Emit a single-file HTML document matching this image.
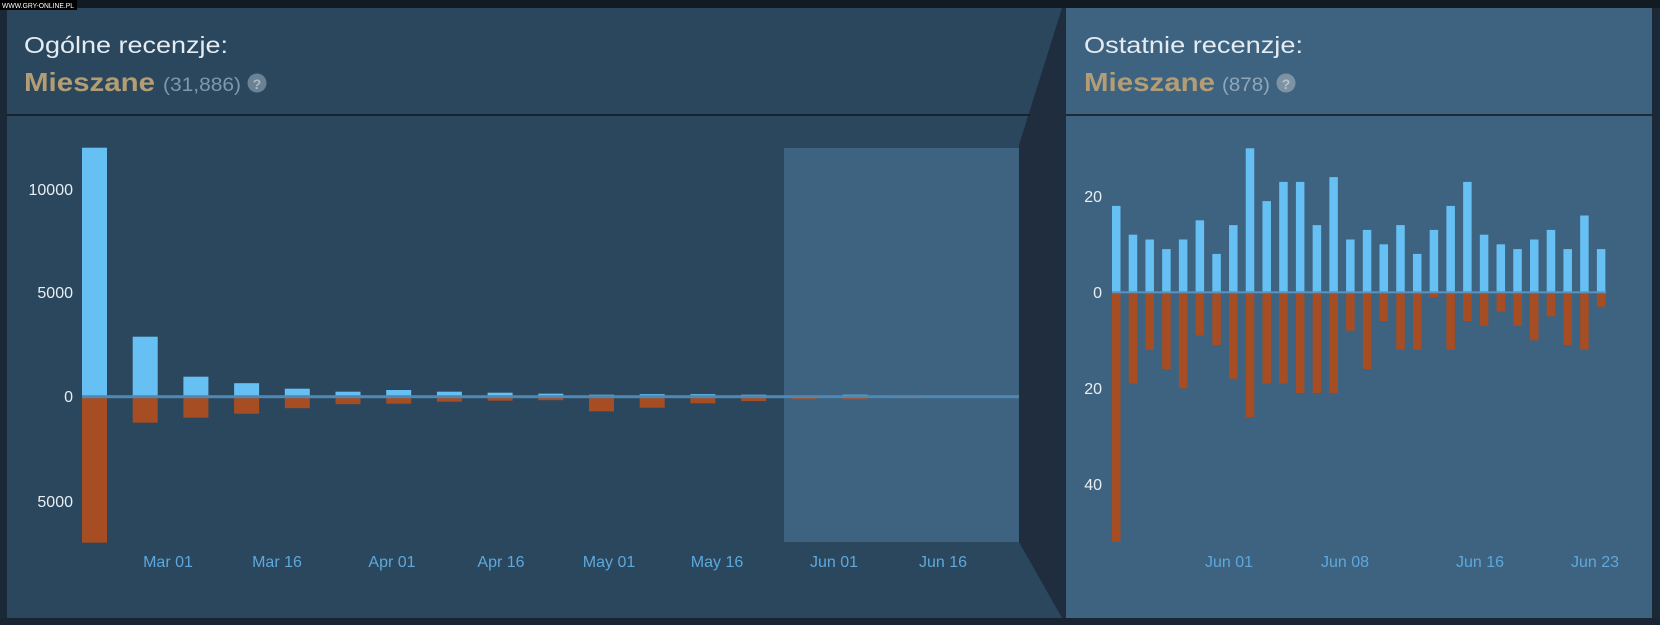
<!DOCTYPE html>
<html><head><meta charset="utf-8"><style>
html,body{margin:0;padding:0;background:#1b2838;width:1660px;height:625px;overflow:hidden}
svg{display:block}
text{font-family:"Liberation Sans",Arial,sans-serif}
</style></head><body>
<svg width="1660" height="625" viewBox="0 0 1660 625" xmlns="http://www.w3.org/2000/svg">
<rect x="0" y="0" width="1660" height="625" fill="#1b2838"/>
<rect x="0" y="0" width="1660" height="8" fill="#121a24"/>
<rect x="0" y="618" width="1660" height="7" fill="#1a2533"/>
<!-- left panel -->
<rect x="7" y="8" width="1058" height="610" fill="#2a475e"/>
<polygon points="1019,145 1062,8 1066,8 1066,618 1062,618 1019,542" fill="#1f2d3e"/>
<line x1="7" y1="115" x2="1030" y2="115" stroke="#111820" stroke-width="1.5"/>
<!-- right panel -->
<rect x="1066" y="8" width="586" height="610" fill="#3e6380"/>
<line x1="1066" y1="115" x2="1652" y2="115" stroke="#111820" stroke-width="1.5"/>

<!-- headers -->
<text x="24" y="53" font-size="23" fill="#e4ecf2" textLength="204" lengthAdjust="spacingAndGlyphs">Ogólne recenzje:</text>
<text x="24" y="91" font-size="26" font-weight="bold" fill="#b39d74" textLength="131" lengthAdjust="spacingAndGlyphs">Mieszane</text>
<text x="163" y="91" font-size="19" fill="#7f98ab" textLength="78" lengthAdjust="spacingAndGlyphs">(31,886)</text>
<circle cx="257" cy="83" r="9.5" fill="#6b8294"/>
<text x="257" y="89" font-size="14" font-weight="bold" fill="#a9bac6" text-anchor="middle">?</text>

<text x="1084" y="53" font-size="23" fill="#e4ecf2" textLength="219" lengthAdjust="spacingAndGlyphs">Ostatnie recenzje:</text>
<text x="1084" y="91" font-size="26" font-weight="bold" fill="#b39d74" textLength="131" lengthAdjust="spacingAndGlyphs">Mieszane</text>
<text x="1222" y="91" font-size="19" fill="#8fa7ba" textLength="48" lengthAdjust="spacingAndGlyphs">(878)</text>
<circle cx="1286" cy="83" r="9.5" fill="#7d93a4"/>
<text x="1286" y="89" font-size="14" font-weight="bold" fill="#b4c3ce" text-anchor="middle">?</text>

<!-- highlight -->
<rect x="784" y="148" width="235" height="394" fill="#3e6380"/>

<!-- left y labels -->
<g font-size="16" fill="#e8eef2" text-anchor="end">
<text x="73" y="195">10000</text>
<text x="73" y="298">5000</text>
<text x="73" y="402">0</text>
<text x="73" y="507">5000</text>
</g>
<!-- left bars -->
<g id="lb"></g>
<g font-size="16" fill="#5ea8dc" text-anchor="middle">
<text x="168" y="567">Mar 01</text>
<text x="277" y="567">Mar 16</text>
<text x="392" y="567">Apr 01</text>
<text x="501" y="567">Apr 16</text>
<text x="609" y="567">May 01</text>
<text x="717" y="567">May 16</text>
<text x="834" y="567">Jun 01</text>
<text x="943" y="567">Jun 16</text>
</g>

<!-- right y labels -->
<g font-size="16" fill="#e8eef2" text-anchor="end">
<text x="1102" y="202">20</text>
<text x="1102" y="298">0</text>
<text x="1102" y="394">20</text>
<text x="1102" y="490">40</text>
</g>
<g id="rb"></g>
<g font-size="16" fill="#5ea8dc" text-anchor="middle">
<text x="1229" y="567">Jun 01</text>
<text x="1345" y="567">Jun 08</text>
<text x="1480" y="567">Jun 16</text>
<text x="1595" y="567">Jun 23</text>
</g>

<!-- watermark -->
<rect x="0" y="0" width="77" height="10" fill="#000"/>
<text x="2" y="8" font-size="7" fill="#fff" textLength="72" lengthAdjust="spacingAndGlyphs">WWW.GRY-ONLINE.PL</text>
</svg>
<script>
var NS="http://www.w3.org/2000/svg";
function r(g,x,y,w,h,c){var e=document.createElementNS(NS,"rect");e.setAttribute("x",x);e.setAttribute("y",y);e.setAttribute("width",w);e.setAttribute("height",h);e.setAttribute("fill",c);g.appendChild(e);}
var lb=document.getElementById("lb");
var lp=[249,60,20,13.5,8,5,6.7,5,4,3,2,2.5,2.5,2,0.7,2,1,1];
var ln=[146,26,21,17,11.5,7.5,7,5,4,3.5,14.7,11,6.6,4.4,3,3,1.5,1];
var z=396.7;
for(var i=0;i<18;i++){var x=82+i*50.7;r(lb,x,z-lp[i],25,lp[i],"#66c0f4");r(lb,x,z,25,ln[i],"#a64d24");}
r(lb,82,z-1.5,937,3,"#4f88b3");
var rb=document.getElementById("rb");
var rp=[18,12,11,9,11,15,8,14,30,19,23,23,14,24,11,13,10,14,8,13,18,23,12,10,9,11,13,9,16,9];
var rn=[52,19,12,16,20,9,11,18,26,19,19,21,21,21,8,16,6,12,12,1,12,6,7,4,7,10,5,11,12,3];
var z2=292.3,s=4.8;
for(var j=0;j<30;j++){var x2=1112+j*16.72;r(rb,x2,z2-rp[j]*s,8.5,rp[j]*s,"#66c0f4");r(rb,x2,z2,8.5,rn[j]*s,"#a64d24");}
r(rb,1112,z2-1,494,2,"#5b93bd");
</script>
</body></html>
